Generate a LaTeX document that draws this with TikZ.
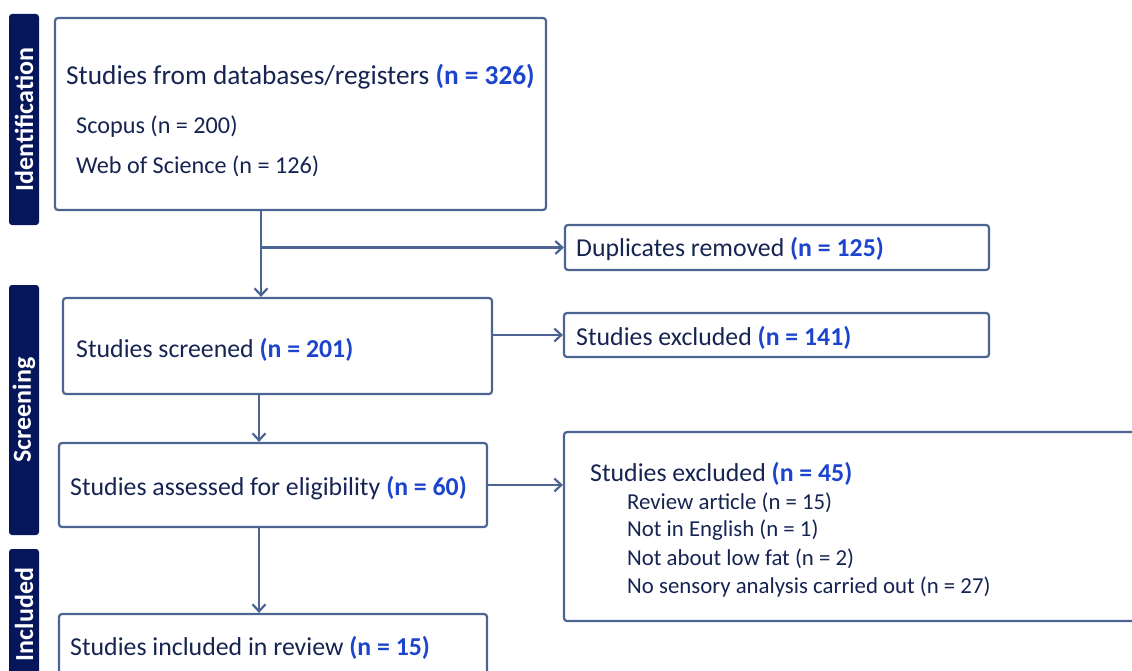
\documentclass[tikz,border=0pt]{standalone}
\usepackage{fontspec}
\setmainfont{Carlito}
\usetikzlibrary{arrows.meta,positioning}
\definecolor{navybar}{RGB}{6,22,90}
\definecolor{boxline}{RGB}{75,100,145}
\definecolor{txt}{RGB}{22,36,82}
\definecolor{nblue}{RGB}{28,68,205}
\newcommand{\nval}[1]{\textcolor{nblue}{\bfseries #1}}

\begin{document}
\begin{tikzpicture}[x=1pt, y=-1pt,
  pbox/.style={draw=boxline, line width=2.2pt, rounded corners=3pt, fill=white},
  phase/.style={fill=navybar, rounded corners=3pt, inner sep=0pt},
  phasetxt/.style={text=white, font=\fontsize{26}{30}\selectfont\bfseries, rotate=90, inner sep=0pt},
  lbl/.style={anchor=west, text=txt, font=\fontsize{25.8}{30}\selectfont, inner sep=0pt, yshift=-1.5pt},
  toplbl/.style={anchor=west, text=txt, font=\fontsize{27.3}{32}\selectfont, inner sep=0pt, yshift=-1.5pt},
  sublbl/.style={anchor=west, text=txt, font=\fontsize{22.8}{27}\selectfont, inner sep=0pt, yshift=-1.5pt},
  arr/.style={draw=boxline, line width=2.2pt, -{Straight Barb[length=7pt,width=13pt]}},
]
\useasboundingbox (0,0) rectangle (1132,671);
\clip (0,0) rectangle (1132,671);

% Phase bars
\node[phase, minimum width=30pt, minimum height=211pt] (idbar) at (24,119.5) {};
\node[phasetxt] (idtxt) at (idbar.center) {Identification};
\node[phase, minimum width=30pt, minimum height=250pt] (scbar) at (24,410) {};
\node[phasetxt] (sctxt) at (scbar.center) {Screening};
\node[phase, minimum width=30pt, minimum height=131pt] (inbar) at (24,614.5) {};
\node[phasetxt] (intxt) at (inbar.center) {Included};

% Boxes
\node[pbox, minimum width=491pt, minimum height=192pt] (db) at (300.5,114) {};
\node[pbox, minimum width=424pt, minimum height=45pt] (dup) at (777,247.5) {};
\node[pbox, minimum width=429pt, minimum height=96pt] (scr) at (277.5,346) {};
\node[pbox, minimum width=425pt, minimum height=44pt] (exa) at (776.5,335) {};
\node[pbox, minimum width=428pt, minimum height=84pt] (elig) at (273,485) {};
\node[pbox, minimum width=586pt, minimum height=189pt] (exb) at (857,526.5) {};
\node[pbox, minimum width=428pt, minimum height=86pt] (incl) at (273,657) {};

% Texts
\node[toplbl] (dbtxt) at (66,75) {Studies from databases/registers \nval{(n = 326)}};
\node[sublbl, font=\fontsize{24.2}{28}\selectfont] (scop) at (76,125) {Scopus (n = 200)};
\node[sublbl, font=\fontsize{24.2}{28}\selectfont] (wos) at (76,165) {Web of Science (n = 126)};
\node[lbl] (duptxt) at (576,248) {Duplicates removed \nval{(n = 125)}};
\node[lbl] (scrtxt) at (76,348) {Studies screened \nval{(n = 201)}};
\node[lbl] (exatxt) at (576,336) {Studies excluded \nval{(n = 141)}};
\node[lbl] (eligtxt) at (70,487) {Studies assessed for eligibility \nval{(n = 60)}};
\node[lbl] (exbtxt) at (590,472) {Studies excluded \nval{(n = 45)}};
\node[sublbl] (rev) at (627,501) {Review article (n = 15)};
\node[sublbl] (eng) at (627,529) {Not in English (n = 1)};
\node[sublbl] (fat) at (627,557) {Not about low fat (n = 2)};
\node[sublbl] (sens) at (627,585) {No sensory analysis carried out (n = 27)};
\node[lbl] (incltxt) at (70,646) {Studies included in review \nval{(n = 15)}};

% Connectors
\coordinate (c1) at (261,0);
\coordinate (c2) at (259,0);
\draw[arr] (db.south -| c1) -- (scr.north -| c1);
\draw[arr] (c1 |- dup.west) -- (dup.west);
\draw[arr] (scr.east |- exa.west) -- (exa.west);
\draw[arr] (scr.south -| c2) -- (elig.north -| c2);
\draw[arr] (elig.east) -- (elig.east -| exb.west);
\draw[arr] (elig.south -| c2) -- (incl.north -| c2);
\end{tikzpicture}
\end{document}
